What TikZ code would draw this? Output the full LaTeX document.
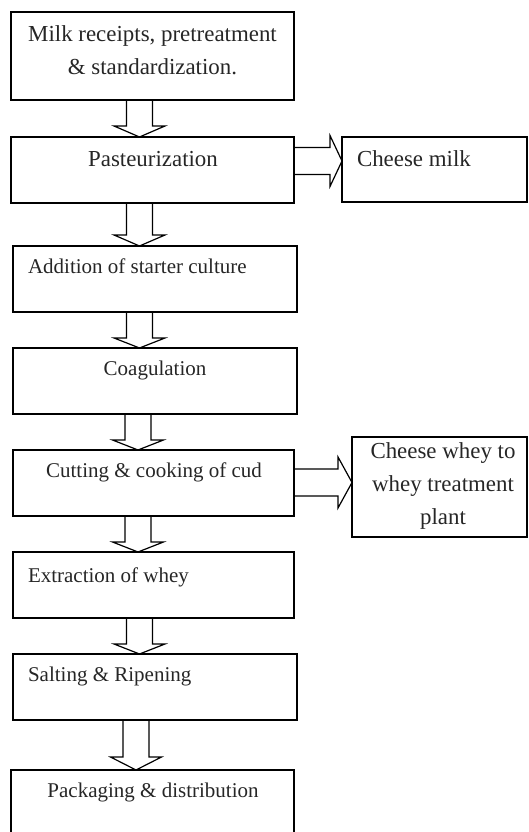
\documentclass[tikz,border=0pt]{standalone}
\usepackage{fontspec}
\setmainfont{Liberation Serif}
\usetikzlibrary{calc}
\tikzset{
  x=1pt, y=1pt,
  box/.style={draw, line width=1.2pt, inner sep=0pt, outer sep=0pt},
  txt/.style={inner sep=0pt, outer sep=0pt, font=\fontsize{22.9}{33}\selectfont, text=black!85},
  stxt/.style={txt, font=\fontsize{21}{30}\selectfont},
  blk/.style={draw, line width=1.2pt, line join=miter}
}
% #1 upper node, #2 lower node, #3 x centre, #4 head length
\newcommand\blkdown[4]{%
  \draw[blk] let \p1=(#1.south), \p2=(#2.north) in
   (#3pt-13pt,\y1) -- (#3pt-13pt,\y2+#4pt) -- (#3pt-25.5pt,\y2+#4pt) -- (#3pt,\y2)
   -- (#3pt+25.5pt,\y2+#4pt) -- (#3pt+13pt,\y2+#4pt) -- (#3pt+13pt,\y1);
}
% #1 left node, #2 right node, #3 y centre, #4 head length
\newcommand\blkright[4]{%
  \draw[blk] let \p1=(#1.east), \p2=(#2.west) in
   (\x1,#3pt+13.5pt) -- (\x2-#4pt,#3pt+13.5pt) -- (\x2-#4pt,#3pt+25.5pt) -- (\x2,#3pt)
   -- (\x2-#4pt,#3pt-25.5pt) -- (\x2-#4pt,#3pt-13.5pt) -- (\x1,#3pt-13.5pt);
}
\begin{document}
\begin{tikzpicture}
\useasboundingbox (0,0) rectangle (528,832);
% boxes
\node[box, minimum width=283pt, minimum height=88pt] (b1) at (152.5,776) {};
\node[box, minimum width=283pt, minimum height=66pt] (b2) at (152.5,662) {};
\node[box, minimum width=185pt, minimum height=65pt] (cm) at (434.5,662.5) {};
\node[box, minimum width=284pt, minimum height=66pt] (b3) at (155,553) {};
\node[box, minimum width=284pt, minimum height=66pt] (b4) at (155,451) {};
\node[box, minimum width=281pt, minimum height=66pt] (b5) at (153.5,349) {};
\node[box, minimum width=175pt, minimum height=100pt] (wh) at (439.5,345) {};
\node[box, minimum width=281pt, minimum height=66pt] (b6) at (153.5,247) {};
\node[box, minimum width=284pt, minimum height=66pt] (b7) at (155,145) {};
\node[box, minimum width=283pt, minimum height=66pt] (b8) at (152.5,29) {};
% texts
\node[txt, anchor=base, align=center] (t1) at (152.5,757) {Milk receipts, pretreatment\\\& standardization.};
\node[txt, anchor=base] (t2) at (153,665) {Pasteurization};
\node[txt, anchor=base west] (tcm) at (357,665) {Cheese milk};
\node[stxt, anchor=base west] (t3) at (28,558) {Addition of starter culture};
\node[stxt, anchor=base] (t4) at (155,456) {Coagulation};
\node[stxt, anchor=base] (t5) at (154,354) {Cutting \& cooking of cud};
\node[txt, anchor=base, align=center] (twh) at (443,307) {Cheese whey to\\whey treatment\\plant};
\node[stxt, anchor=base west] (t6) at (28,249) {Extraction of whey};
\node[stxt, anchor=base west] (t7) at (28,150) {Salting \& Ripening};
\node[stxt, anchor=base] (t8) at (153,34) {Packaging \& distribution};
% block arrows
\blkdown{b1}{b2}{139.5}{11}
\blkdown{b2}{b3}{139.5}{11}
\blkdown{b3}{b4}{139.5}{10}
\blkdown{b4}{b5}{138}{10}
\blkdown{b5}{b6}{138}{10}
\blkdown{b6}{b7}{139.5}{10}
\blkdown{b7}{b8}{136}{13}
\blkright{b2}{cm}{671}{12}
\blkright{b5}{wh}{349.5}{14}
\end{tikzpicture}
\end{document}
